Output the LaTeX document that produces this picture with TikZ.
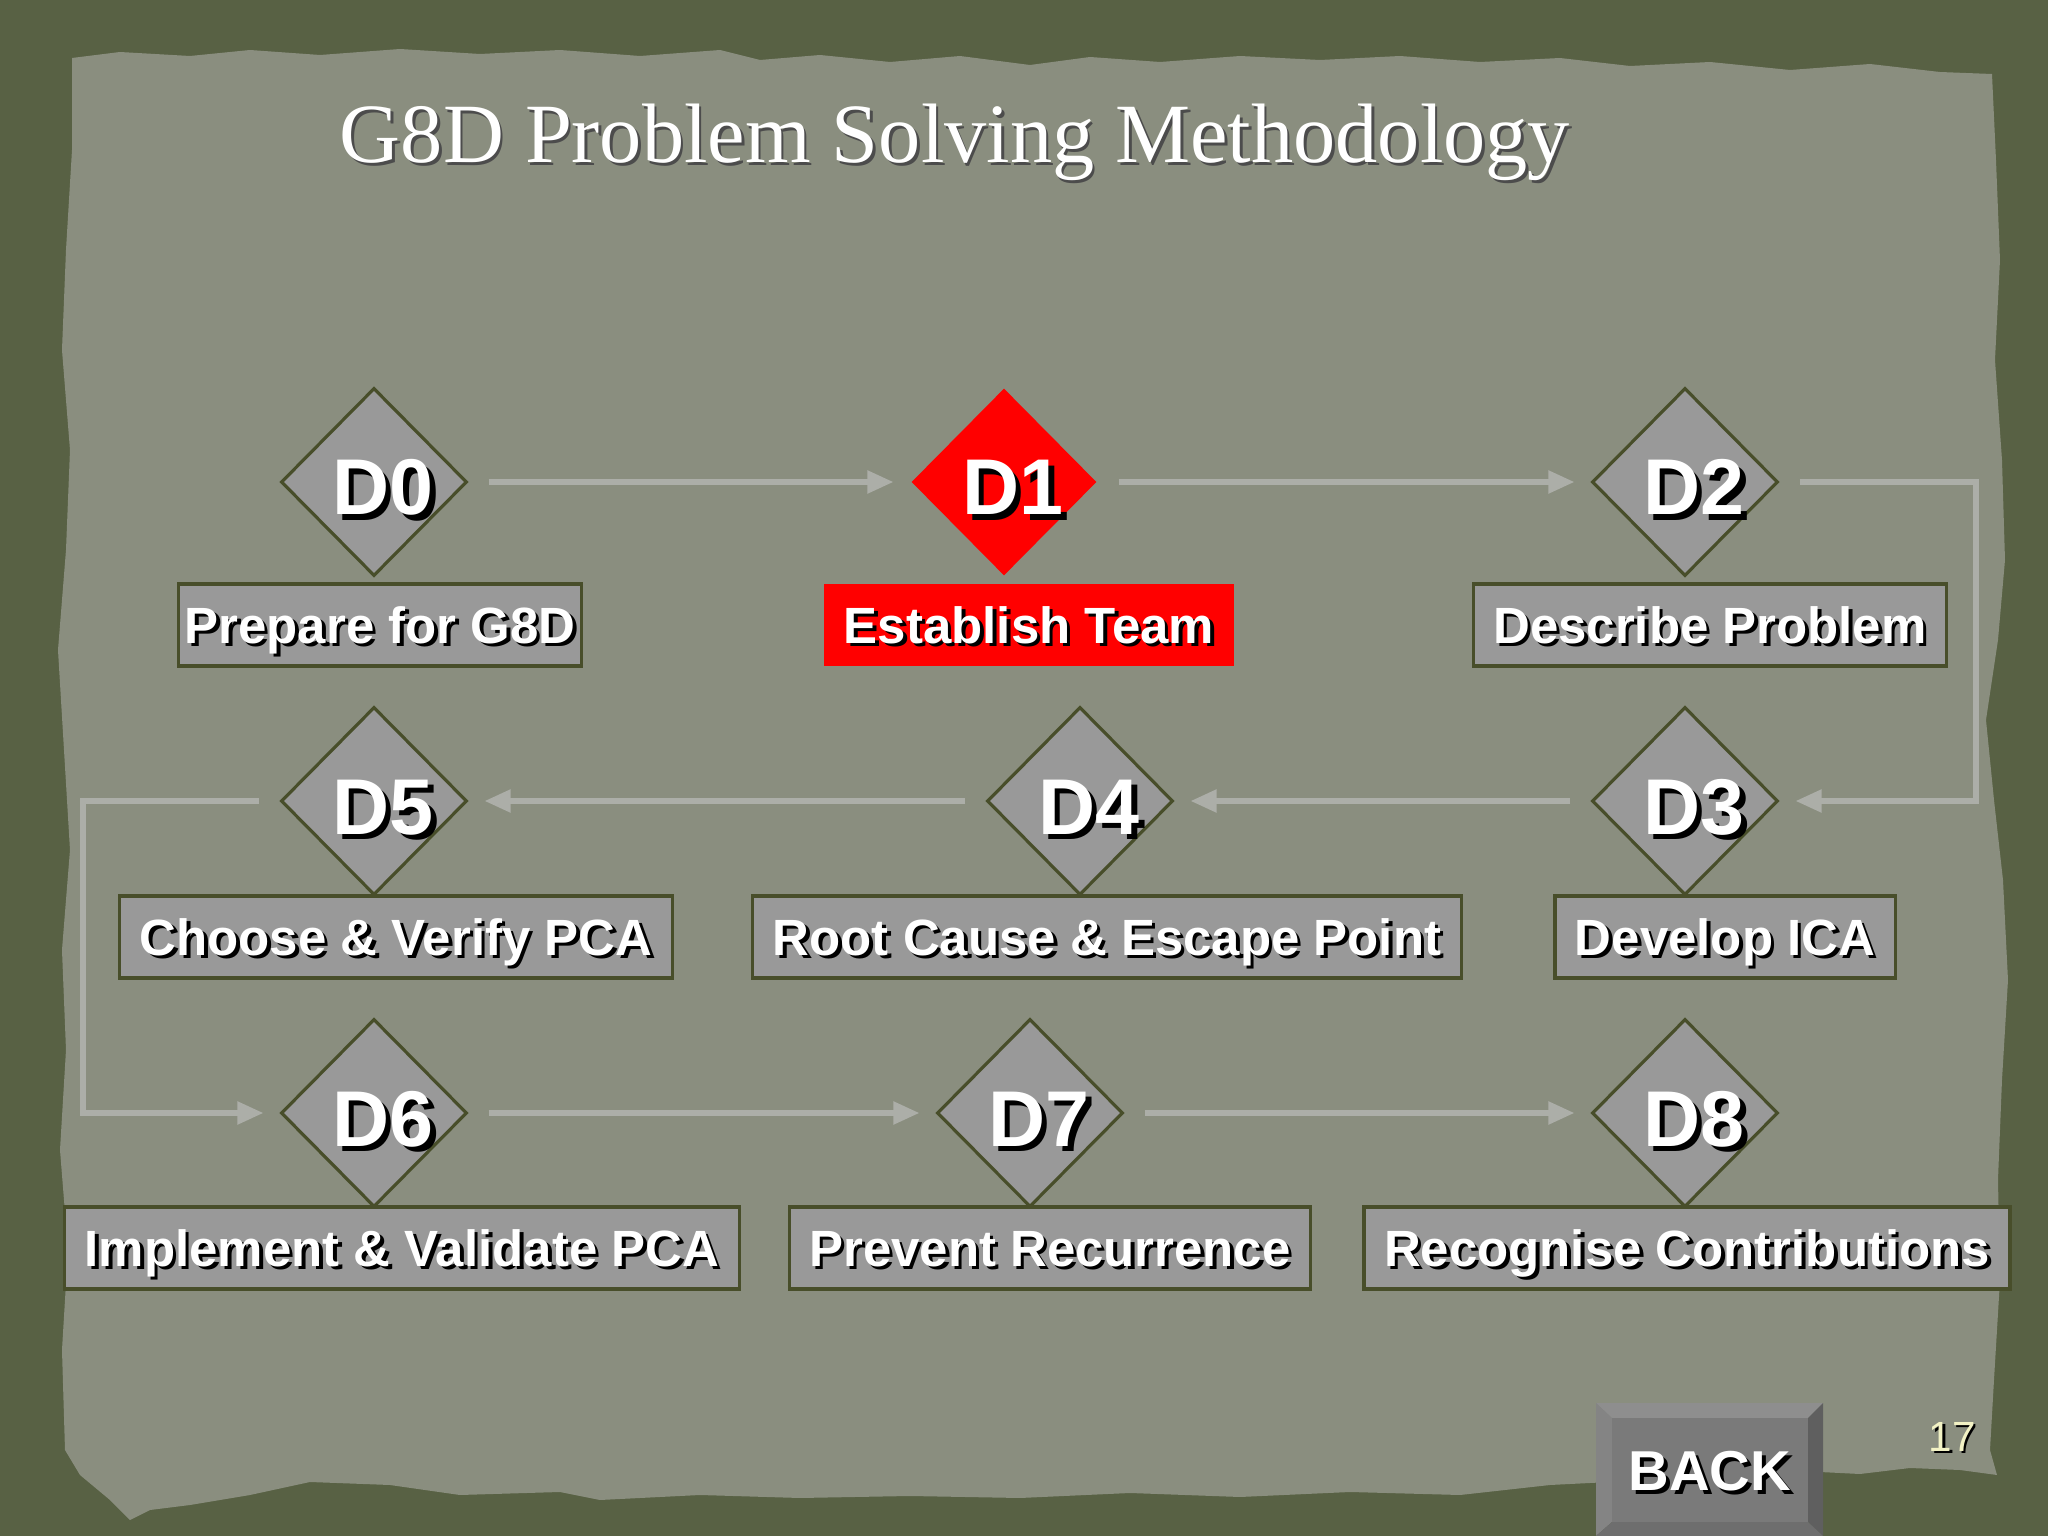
\documentclass[tikz,border=0pt]{standalone}
\usepackage{fontspec}
\setmainfont{Liberation Sans}
\newfontfamily\titlefont{Liberation Serif}
\usetikzlibrary{shapes.geometric,positioning,arrows.meta}

\definecolor{frame}{RGB}{88,97,68}
\definecolor{paper}{RGB}{138,142,127}
\definecolor{stepgray}{RGB}{153,153,153}
\definecolor{edgeolive}{RGB}{72,78,42}
\definecolor{flowgray}{RGB}{172,174,168}
\definecolor{numyellow}{RGB}{242,242,196}
\definecolor{bevtop}{RGB}{142,142,142}
\definecolor{bevleft}{RGB}{132,132,132}
\definecolor{bevright}{RGB}{95,95,95}
\definecolor{bevbottom}{RGB}{110,110,110}
\definecolor{backface}{RGB}{122,122,122}

\newcommand{\shtext}[1]{\makebox[0pt][l]{\kern.07em\raisebox{-.07em}{\color{black}#1}}#1}

\tikzset{
  dstep/.style={diamond, draw=edgeolive, line width=0.9pt, fill=stepgray,
    minimum width=1.86cm, minimum height=1.88cm, inner sep=0pt, text=white,
    text height=0.66cm, text depth=0pt,
    font=\fontsize{22.5}{24}\selectfont\bfseries},
  dbox/.style={rectangle, draw=edgeolive, line width=0.9pt, fill=stepgray,
    minimum height=0.82cm, inner xsep=0.2cm, inner ysep=0pt, text=white,
    text height=10.4pt, text depth=0pt,
    font=\fontsize{14.5}{16}\selectfont\bfseries},
  redstep/.style={fill=red, draw=none},
  flow/.style={draw=flowgray, line width=1.5pt,
    -{Triangle[length=0.26cm,width=0.22cm]}, shorten <=0.2cm, shorten >=0.16cm}
}

\begin{document}
\begin{tikzpicture}[node distance=2cm,on grid]
  \useasboundingbox (0,0) rectangle (20.48,-15.36);
  % background and torn paper
  \fill[frame] (0,0) rectangle (20.48,-15.36);
  \fill[paper] (0.72,-0.58) -- (1.2,-0.52) -- (1.9,-0.56) -- (2.5,-0.50) -- (3.2,-0.55)
    -- (4.0,-0.49) -- (4.8,-0.54) -- (5.6,-0.50) -- (6.4,-0.56) -- (7.2,-0.50) -- (7.6,-0.60)
    -- (8.2,-0.55) -- (8.9,-0.62) -- (9.6,-0.56) -- (10.3,-0.65) -- (10.9,-0.57) -- (11.6,-0.62)
    -- (12.4,-0.56) -- (13.2,-0.60) -- (14.0,-0.56) -- (14.8,-0.62) -- (15.6,-0.58) -- (16.3,-0.66)
    -- (17.1,-0.62) -- (17.9,-0.70) -- (18.7,-0.64) -- (19.4,-0.72) -- (19.92,-0.74)
    -- (19.96,-1.6) -- (20.0,-2.6) -- (19.95,-3.6) -- (20.02,-4.6) -- (20.05,-5.6) -- (19.98,-6.4)
    -- (19.86,-7.2) -- (19.94,-8.0) -- (20.03,-8.8) -- (20.08,-9.8) -- (20.02,-10.8) -- (19.98,-11.8)
    -- (20.0,-12.8) -- (19.94,-13.8) -- (19.9,-14.5) -- (19.97,-14.75)
    -- (19.6,-14.7) -- (19.1,-14.68) -- (18.6,-14.74) -- (17.8,-14.70) -- (16.5,-14.80) -- (15.5,-14.85)
    -- (14.6,-14.95) -- (13.5,-14.92) -- (12.4,-14.97) -- (11.3,-14.93) -- (10.2,-14.98) -- (9.1,-14.96)
    -- (8.0,-14.98) -- (7.0,-14.95) -- (6.0,-15.00) -- (5.6,-14.92) -- (4.6,-14.95) -- (3.9,-14.85)
    -- (3.1,-14.82) -- (2.5,-14.95) -- (1.9,-15.05) -- (1.5,-15.10) -- (1.3,-15.2) -- (1.1,-15.0)
    -- (0.8,-14.75) -- (0.65,-14.5) -- (0.62,-13.5) -- (0.68,-12.5) -- (0.60,-11.5) -- (0.66,-10.5)
    -- (0.62,-9.5) -- (0.70,-8.5) -- (0.64,-7.5) -- (0.58,-6.5) -- (0.66,-5.5) -- (0.70,-4.5)
    -- (0.62,-3.5) -- (0.66,-2.5) -- (0.72,-1.5) -- cycle;

  % title
  \node[anchor=base, text=black!70, font=\titlefont\fontsize{24}{28}\selectfont] (title_sh)
    at (9.575,-1.655) {G8D Problem Solving Methodology};
  \node[anchor=base, text=white, font=\titlefont\fontsize{24}{28}\selectfont] (title)
    at (9.55,-1.63) {G8D Problem Solving Methodology};

  % the eight disciplines
  \node[dstep] (d_0) at (3.74,-4.82) {\kern0.18cm\shtext{D0}};
  \node[dstep, redstep] (d_1) [right=6.30cm of d_0] {\kern0.18cm\shtext{D1}};
  \node[dstep] (d_2) [right=6.81cm of d_1] {\kern0.18cm\shtext{D2}};
  \node[dstep] (d_3) [below=3.19cm of d_2] {\kern0.18cm\shtext{D3}};
  \node[dstep] (d_4) [left=6.05cm of d_3] {\kern0.18cm\shtext{D4}};
  \node[dstep] (d_5) [left=7.06cm of d_4] {\kern0.18cm\shtext{D5}};
  \node[dstep] (d_6) [below=3.12cm of d_5] {\kern0.18cm\shtext{D6}};
  \node[dstep] (d_7) [right=6.56cm of d_6] {\kern0.18cm\shtext{D7}};
  \node[dstep] (d_8) [right=6.55cm of d_7] {\kern0.18cm\shtext{D8}};

  \node[dbox, inner xsep=0.06cm] (l_0) [below right=1.43cm and 0.06cm of d_0] {\shtext{Prepare for G8D}};
  \node[dbox, redstep] (l_1) [below right=1.43cm and 0.25cm of d_1] {\shtext{Establish Team}};
  \node[dbox] (l_2) [below right=1.43cm and 0.25cm of d_2] {\shtext{Describe Problem}};
  \node[dbox] (l_3) [below right=1.36cm and 0.40cm of d_3] {\shtext{Develop ICA}};
  \node[dbox] (l_4) [below right=1.36cm and 0.27cm of d_4] {\shtext{Root Cause \& Escape Point}};
  \node[dbox] (l_5) [below right=1.36cm and 0.22cm of d_5] {\shtext{Choose \& Verify PCA}};
  \node[dbox] (l_6) [below right=1.35cm and 0.28cm of d_6] {\shtext{Implement \& Validate PCA}};
  \node[dbox] (l_7) [below right=1.35cm and 0.20cm of d_7] {\shtext{Prevent Recurrence}};
  \node[dbox] (l_8) [below right=1.35cm and 0.02cm of d_8] {\shtext{Recognise Contributions}};

  % flow
  \coordinate (turn_r) at (19.76,0);
  \coordinate (turn_l) at (0.83,0);
  \path
    (d_0) edge[flow] (d_1)
    (d_1) edge[flow] (d_2)
    (d_3) edge[flow] (d_4)
    (d_4) edge[flow] (d_5)
    (d_6) edge[flow] (d_7)
    (d_7) edge[flow] (d_8);
  \draw[flow] (d_2) -- (turn_r |- d_2) -- (turn_r |- d_3) -- (d_3);
  \draw[flow] (d_5) -- (turn_l |- d_5) -- (turn_l |- d_6) -- (d_6);

  % back button and page number
  \fill[bevtop] (15.96,-14.03) -- (18.23,-14.03) -- (18.08,-14.18) -- (16.12,-14.18) -- cycle;
  \fill[bevleft] (15.96,-14.03) -- (16.12,-14.18) -- (16.12,-15.22) -- (15.96,-15.36) -- cycle;
  \fill[bevright] (18.23,-14.03) -- (18.23,-15.36) -- (18.08,-15.22) -- (18.08,-14.18) -- cycle;
  \fill[bevbottom] (15.96,-15.36) -- (16.12,-15.22) -- (18.08,-15.22) -- (18.23,-15.36) -- cycle;
  \node[fill=backface, minimum width=1.96cm, minimum height=1.04cm, inner sep=0pt, text=white,
    text height=11.5pt, text depth=0pt,
    font=\fontsize{16}{18}\selectfont\bfseries] (back) at (17.10,-14.70) {\shtext{BACK}};
  \node[text=numyellow, font=\fontsize{12}{14}\selectfont] (page) at (19.52,-14.38) {\shtext{17}};
\end{tikzpicture}
\end{document}
